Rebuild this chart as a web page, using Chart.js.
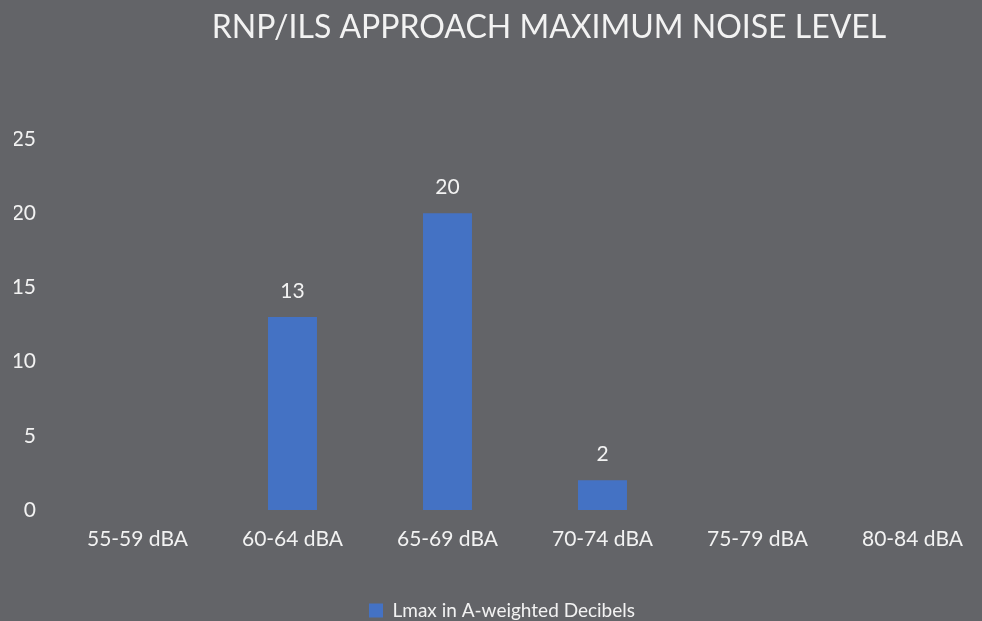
<!DOCTYPE html>
<html>
<head>
<meta charset="utf-8">
<script src="https://cdn.jsdelivr.net/npm/chart.js@4"></script>
<style>
  html, body { margin: 0; padding: 0; background: #636468; overflow: hidden; }
  #wrap { width: 982px; height: 621px; overflow: hidden; position: relative; }
  #box { width: 1000px; height: 630px; position: absolute; left: 0; top: 0; }
</style>
</head>
<body>
<div id="wrap"><div id="box"><canvas id="c"></canvas></div></div>
<script>
const chartTitle = "RNP/ILS APPROACH MAXIMUM NOISE LEVEL";
const categories = ["55-59 dBA", "60-64 dBA", "65-69 dBA", "70-74 dBA", "75-79 dBA", "80-84 dBA"];
const seriesName = "Lmax in A-weighted Decibels";
const seriesValues = [null, 13, 20, 2, null, null];
const yTicks = [0, 5, 10, 15, 20, 25];

const FONT = "Lato, 'Open Sans', sans-serif";
const TXT = "#f2f2f2";
const BAR = "#4472C4";

const titlePlugin = {
  id: 'customTitle',
  afterDraw(chart) {
    const ctx = chart.ctx;
    ctx.save();
    ctx.font = "32px " + FONT;
    ctx.fillStyle = TXT;
    ctx.textAlign = 'center';
    ctx.textBaseline = 'alphabetic';
    ctx.fillText(chartTitle, 549, 38);
    ctx.restore();
  }
};

const labelPlugin = {
  id: 'barLabels',
  afterDatasetsDraw(chart) {
    const ctx = chart.ctx;
    const meta = chart.getDatasetMeta(0);
    ctx.save();
    ctx.font = "21px " + FONT;
    ctx.fillStyle = TXT;
    ctx.textAlign = 'center';
    ctx.textBaseline = 'alphabetic';
    meta.data.forEach((el, i) => {
      const v = chart.data.datasets[0].data[i];
      if (v === null || v === undefined) return;
      ctx.fillText(String(v), el.x, el.y - 19);
    });
    ctx.restore();
  }
};

new Chart(document.getElementById('c'), {
  type: 'bar',
  data: {
    labels: categories,
    datasets: [{
      label: seriesName,
      data: seriesValues,
      backgroundColor: BAR,
      borderWidth: 0,
      categoryPercentage: 1,
      barPercentage: 0.316
    }]
  },
  options: {
    responsive: true,
    maintainAspectRatio: false,
    animation: false,
    layout: { padding: { top: 139, left: 14, right: 10, bottom: 0 } },
    plugins: {
      title: { display: false },
      tooltip: { enabled: false },
      legend: {
        display: true,
        position: 'bottom',
        labels: {
          color: TXT,
          font: { family: FONT, size: 19 },
          boxWidth: 14,
          boxHeight: 14,
          padding: 10
        }
      }
    },
    scales: {
      x: {
        grid: { display: false, drawTicks: false },
        border: { display: false },
        ticks: { color: TXT, font: { family: FONT, size: 21 }, padding: 17, maxRotation: 0 },
        afterFit(s) { s.height = 81; }
      },
      y: {
        min: 0,
        max: 25,
        grid: { display: false, drawTicks: false },
        border: { display: false },
        afterBuildTicks(s) { s.ticks = yTicks.map(v => ({ value: v })); },
        ticks: { color: TXT, font: { family: FONT, size: 21 }, padding: 24 },
        afterFit(s) { s.width = 46; }
      }
    }
  },
  plugins: [titlePlugin, labelPlugin]
});
</script>
</body>
</html>
